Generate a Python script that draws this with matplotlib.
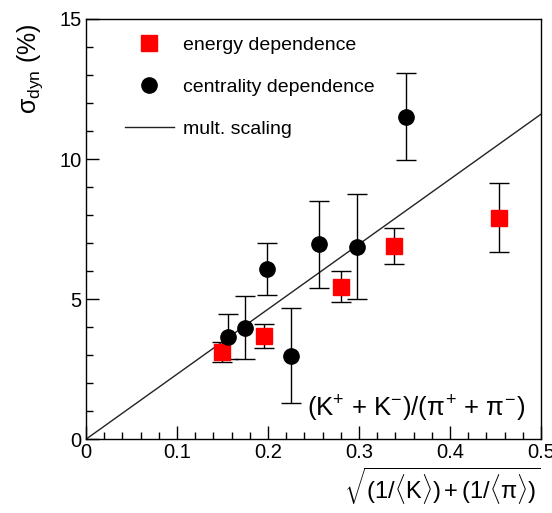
import matplotlib.pyplot as plt
import numpy as np
from matplotlib.lines import Line2D

plt.rcParams['font.family'] = ['Liberation Sans', 'DejaVu Sans']
plt.rcParams['mathtext.fontset'] = 'custom'
plt.rcParams['mathtext.rm'] = 'Liberation Sans'
plt.rcParams['mathtext.it'] = 'Liberation Sans'

# energy dependence (red squares)
en_x = [0.149, 0.196, 0.280, 0.338, 0.454]
en_y = [3.12, 3.69, 5.44, 6.90, 7.90]
en_err = [0.36, 0.43, 0.55, 0.65, 1.23]

# centrality dependence (black circles)
ce_x = [0.156, 0.175, 0.199, 0.225, 0.256, 0.298, 0.352]
ce_y = [3.65, 3.98, 6.07, 2.98, 6.95, 6.87, 11.51]
ce_err = [0.80, 1.13, 0.93, 1.70, 1.54, 1.88, 1.55]

# multiplicity scaling line
slope = 23.2
line_x = [0.0, 0.5]


def main():
    fig = plt.figure(figsize=(5.52, 5.13), dpi=100)
    ax = fig.add_axes([0.156, 0.144, 0.824, 0.819])

    lx = np.array(line_x)
    ax.plot(lx, slope * lx, color='#222222', lw=1.0, zorder=2)
    ax.errorbar(en_x, en_y, yerr=en_err, fmt='s', color='red', ms=11.5,
                ecolor='black', elinewidth=1.0, capsize=7, capthick=1.0, zorder=3)
    ax.errorbar(ce_x, ce_y, yerr=ce_err, fmt='o', color='black', ms=11,
                ecolor='black', elinewidth=1.0, capsize=7, capthick=1.0, zorder=3)

    ax.set_xlim(0, 0.5)
    ax.set_ylim(0, 15)
    ax.set_xticks([0, 0.1, 0.2, 0.3, 0.4, 0.5])
    ax.set_xticklabels(['0', '0.1', '0.2', '0.3', '0.4', '0.5'])
    ax.set_yticks([0, 5, 10, 15])
    ax.set_xticks(np.arange(0, 0.501, 0.02), minor=True)
    ax.set_yticks(np.arange(0, 15.01, 1), minor=True)
    ax.tick_params(which='major', direction='in', length=9.5, width=1.0, labelsize=14.5)
    ax.tick_params(which='minor', direction='in', length=4.8, width=1.0)
    ax.tick_params(axis='x', pad=3)
    for s in ax.spines.values():
        s.set_linewidth(1.0)

    ax.set_ylabel(r'$\sigma_{\rm dyn}$ (%)', fontsize=18, ha='right', y=1.0)
    ax.yaxis.set_label_coords(-0.09, 0.99)
    ax.set_xlabel(r'$\sqrt{(1/\langle \mathrm{K}\rangle)+(1/\langle\pi\rangle)}$',
                  fontsize=17, ha='right', x=1.0, labelpad=2)

    ax.text(0.965, 0.035, r'(K$^{+}$ + K$^{-}$)/($\pi^{+}$ + $\pi^{-}$)',
            transform=ax.transAxes, ha='right', va='bottom', fontsize=18.5)

    handles = [
        Line2D([], [], ls='none', marker='s', color='red', ms=11.5),
        Line2D([], [], ls='none', marker='o', color='black', ms=11),
        Line2D([], [], color='#222222', lw=1.0),
    ]
    labels = ['energy dependence', 'centrality dependence', 'mult. scaling']
    ax.legend(handles, labels, loc='upper left',
              bbox_to_anchor=(0.047, 1.0), frameon=False, fontsize=14,
              labelspacing=1.25, handlelength=2.5, handletextpad=0.5,
              numpoints=1)

    fig.savefig('out.png', dpi=100)


if __name__ == '__main__':
    main()
